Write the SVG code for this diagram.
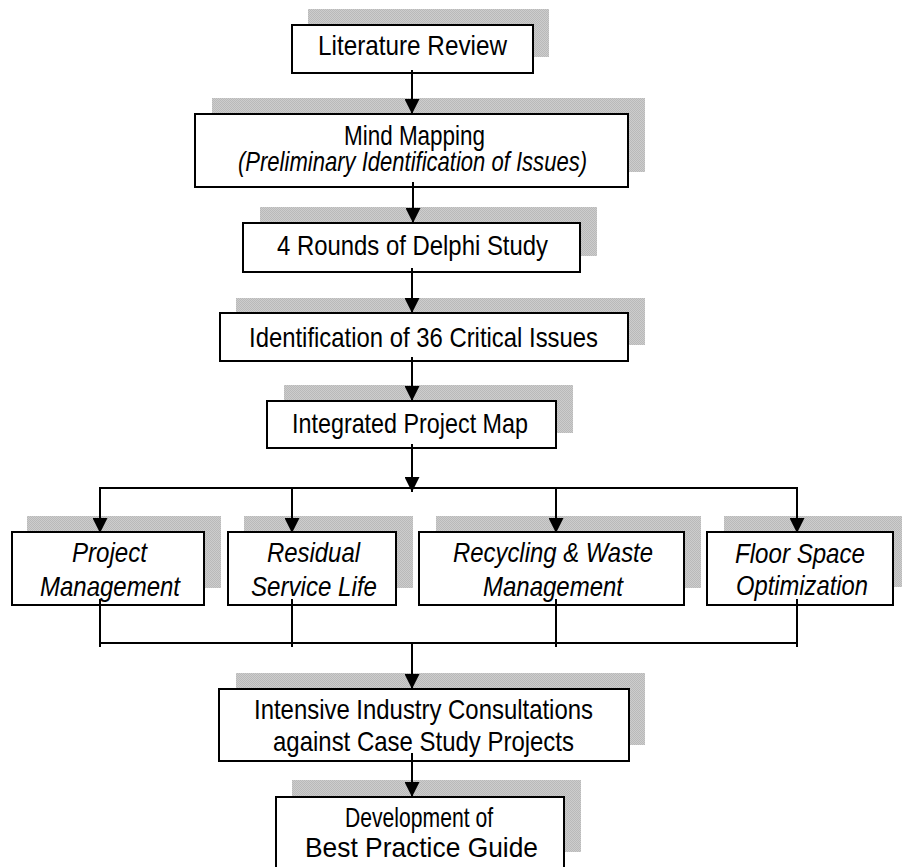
<svg xmlns="http://www.w3.org/2000/svg" width="902" height="867" viewBox="0 0 902 867">
<defs>
<pattern id="dots" width="2" height="2" patternUnits="userSpaceOnUse">
<rect width="2" height="2" fill="#cdcdcd"/>
<rect width="1" height="1" fill="#b9b9b9"/>
<rect x="1" y="1" width="1" height="1" fill="#b9b9b9"/>
</pattern>
<marker id="ah" markerWidth="15" markerHeight="15" refX="15" refY="7.5" orient="auto" markerUnits="userSpaceOnUse">
<path d="M0,0 L15,7.5 L0,15 Z" fill="#000"/>
</marker>
</defs>
<style>
.sh{fill:url(#dots);}
.bx{fill:#fff;stroke:#000;stroke-width:2;}
text{font-family:"Liberation Sans Narrow","Liberation Sans",Arial,sans-serif;font-size:28px;fill:#000;text-anchor:middle;}
.it{font-style:italic;}
.ln{fill:none;stroke:#000;stroke-width:2;}
.ar{fill:none;stroke:#000;stroke-width:2;marker-end:url(#ah);}
</style>
<rect width="902" height="867" fill="#fff"/>

<g id="literature-review">
<rect class="sh" x="308" y="9" width="241" height="48"/>
<rect class="bx" x="292" y="25" width="241" height="48"/>
<text x="412.5" y="55" textLength="189" lengthAdjust="spacingAndGlyphs">Literature Review</text>
</g>

<g id="mind-mapping">
<rect class="sh" x="212" y="98" width="433" height="74"/>
<rect class="bx" x="195" y="114" width="433" height="73"/>
<text x="414.5" y="145" textLength="141" lengthAdjust="spacingAndGlyphs">Mind Mapping</text>
<text class="it" x="412.5" y="171" textLength="349" lengthAdjust="spacingAndGlyphs">(Preliminary Identification of Issues)</text>
</g>

<g id="delphi">
<rect class="sh" x="260" y="207" width="337" height="49"/>
<rect class="bx" x="243" y="223" width="337" height="49"/>
<text x="412.5" y="255" textLength="271" lengthAdjust="spacingAndGlyphs">4 Rounds of Delphi Study</text>
</g>

<g id="identification">
<rect class="sh" x="236" y="298" width="409" height="47"/>
<rect class="bx" x="220" y="313" width="408" height="48"/>
<text x="423.5" y="347" textLength="349" lengthAdjust="spacingAndGlyphs">Identification of 36 Critical Issues</text>
</g>

<g id="integrated-map">
<rect class="sh" x="284" y="385" width="289" height="48"/>
<rect class="bx" x="267" y="401" width="289" height="47"/>
<text x="410" y="433" textLength="236" lengthAdjust="spacingAndGlyphs">Integrated Project Map</text>
</g>

<g id="project-management">
<rect class="sh" x="27" y="516" width="194" height="72"/>
<rect class="bx" x="12" y="532" width="192" height="73"/>
<text class="it" x="109.5" y="562" textLength="75" lengthAdjust="spacingAndGlyphs">Project</text>
<text class="it" x="110" y="596" textLength="140" lengthAdjust="spacingAndGlyphs">Management</text>
</g>

<g id="residual-service-life">
<rect class="sh" x="244" y="516" width="169" height="72"/>
<rect class="bx" x="228" y="532" width="168" height="73"/>
<text class="it" x="313.5" y="562" textLength="93" lengthAdjust="spacingAndGlyphs">Residual</text>
<text class="it" x="314" y="596" textLength="126" lengthAdjust="spacingAndGlyphs">Service Life</text>
</g>

<g id="recycling-waste">
<rect class="sh" x="436" y="516" width="265" height="72"/>
<rect class="bx" x="419" y="532" width="265" height="73"/>
<text class="it" x="553" y="562" textLength="200" lengthAdjust="spacingAndGlyphs">Recycling &amp; Waste</text>
<text class="it" x="553" y="596" textLength="140" lengthAdjust="spacingAndGlyphs">Management</text>
</g>

<g id="floor-space">
<rect class="sh" x="724" y="516" width="186" height="71"/>
<rect class="bx" x="707" y="532" width="186" height="73"/>
<text class="it" x="800" y="563" textLength="130" lengthAdjust="spacingAndGlyphs">Floor Space</text>
<text class="it" x="802" y="595" textLength="132" lengthAdjust="spacingAndGlyphs">Optimization</text>
</g>

<g id="industry-consultations">
<rect class="sh" x="236" y="673" width="409" height="72"/>
<rect class="bx" x="219" y="689" width="410" height="72"/>
<text x="423.5" y="719" textLength="339" lengthAdjust="spacingAndGlyphs">Intensive Industry Consultations</text>
<text x="423.5" y="751" textLength="301" lengthAdjust="spacingAndGlyphs">against Case Study Projects</text>
</g>

<g id="best-practice-guide">
<rect class="sh" x="292" y="780" width="289" height="72"/>
<rect class="bx" x="276" y="797" width="288" height="75"/>
<text x="419" y="827" textLength="148" lengthAdjust="spacingAndGlyphs">Development of</text>
<text x="421.5" y="857" textLength="233" lengthAdjust="spacingAndGlyphs">Best Practice Guide</text>
</g>

<g id="connectors">
<line class="ar" x1="412" y1="70" x2="412" y2="114"/>
<line class="ar" x1="413" y1="182" x2="413" y2="223"/>
<line class="ar" x1="412" y1="268" x2="412" y2="313"/>
<line class="ar" x1="412" y1="357" x2="412" y2="401"/>
<line class="ar" x1="412" y1="444" x2="412" y2="492"/>
<polyline class="ln" points="100,533 100,488 797,488 797,533"/>
<line class="ar" x1="100" y1="488" x2="100" y2="533"/>
<line class="ar" x1="292" y1="488" x2="292" y2="533"/>
<line class="ar" x1="556" y1="488" x2="556" y2="533"/>
<line class="ar" x1="797" y1="488" x2="797" y2="533"/>
<line class="ln" x1="100" y1="643" x2="797" y2="643"/>
<line class="ln" x1="100" y1="599" x2="100" y2="647"/>
<line class="ln" x1="292" y1="599" x2="292" y2="647"/>
<line class="ln" x1="556" y1="599" x2="556" y2="647"/>
<line class="ln" x1="797" y1="599" x2="797" y2="647"/>
<line class="ar" x1="412" y1="643" x2="412" y2="689"/>
<line class="ar" x1="412" y1="753" x2="412" y2="797"/>
</g>
</svg>
